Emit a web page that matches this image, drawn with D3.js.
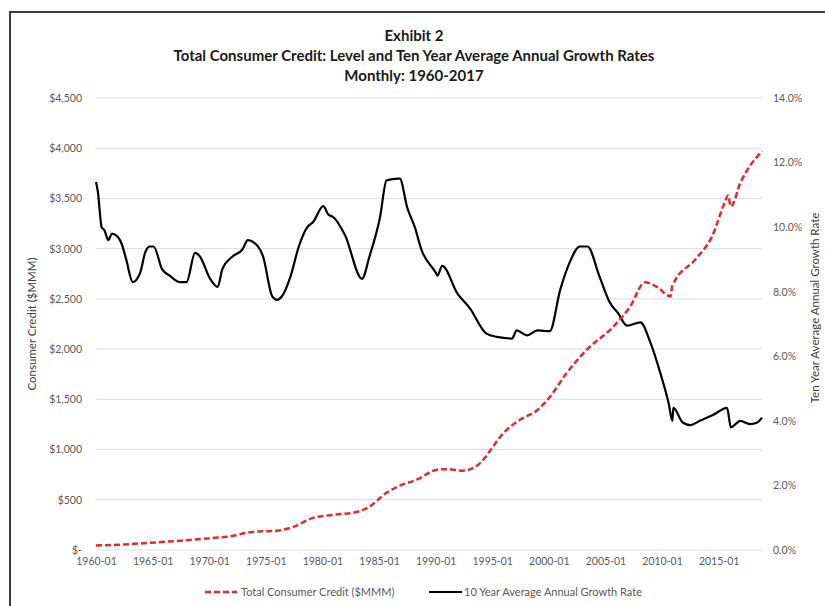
<!DOCTYPE html>
<html>
<head>
<meta charset="utf-8">
<script src="https://cdn.jsdelivr.net/npm/d3@7/dist/d3.min.js"></script>
<style>
  body { margin: 0; background: #fff; }
  svg { display: block; font-family: Lato, "Open Sans", sans-serif; }
</style>
</head>
<body>
<svg id="chart" width="825" height="606"></svg>
<script>
// total consumer credit, $ billions
var creditDates = ["1960-01","1962-02","1964-07","1967-06","1970-05","1971-08","1973-11","1976-01",
  "1977-06","1979-03","1981-01","1983-02","1984-01","1985-09","1986-11","1988-05","1990-03",
  "1991-01","1992-06","1994-01","1994-07","1996-01","1997-06","1999-01","2000-02","2001-08",
  "2003-05","2005-09","2007-03","2008-07","2009-08","2010-10","2010-12","2013-01","2014-06",
  "2015-08","2015-11","2016-02","2016-12","2018-11"];
var creditValues = [45, 52, 70, 92, 120, 132, 180, 192,
  230, 320, 350, 380, 420, 570, 640, 700, 800,
  805, 790, 870, 940, 1165, 1294, 1394, 1523, 1762,
  1991, 2220, 2419, 2665, 2618, 2525, 2630, 2900, 3120,
  3470, 3530, 3420, 3654, 3970];

// ten year average annual growth rate, %
var growthDates = ["1960-01","1960-03","1960-07","1960-10","1961-02","1961-06","1961-12","1962-04",
  "1962-09","1963-04","1963-12","1964-05","1964-10","1965-02","1965-11","1966-07","1967-06",
  "1968-01","1968-10","1969-03","1970-02","1970-10","1971-03","1972-02","1972-12","1973-06",
  "1973-11","1974-10","1975-08","1976-01","1976-06","1977-03","1977-12","1978-09","1979-03",
  "1980-02","1980-07","1981-01","1982-01","1983-07","1984-03","1985-02","1985-09","1986-09",
  "1986-11","1987-07","1988-03","1988-10","1990-01","1990-03","1990-08","1991-12","1993-01",
  "1994-07","1995-06","1996-10","1997-03","1998-02","1999-01","2000-02","2001-01","2001-11",
  "2002-10","2003-06","2004-07","2005-06","2006-02","2006-12","2008-02","2009-01","2009-11",
  "2010-08","2010-12","2011-01","2011-11","2012-07","2013-05","2014-07","2015-10","2016-02",
  "2016-12","2017-10","2018-06","2018-11"];
var growthValues = [11.4, 11.1, 10.0, 9.9, 9.6, 9.8, 9.7, 9.5,
  9.0, 8.3, 8.6, 9.2, 9.4, 9.4, 8.7, 8.5, 8.3,
  8.3, 9.2, 9.1, 8.4, 8.15, 8.7, 9.1, 9.3, 9.6,
  9.55, 9.1, 7.85, 7.75, 7.85, 8.45, 9.4, 10.0, 10.15,
  10.65, 10.4, 10.3, 9.75, 8.4, 9.1, 10.3, 11.45, 11.5,
  11.5, 10.6, 10.0, 9.3, 8.6, 8.5, 8.8, 7.95, 7.5,
  6.7, 6.6, 6.55, 6.8, 6.65, 6.8, 6.78, 8.05, 8.9,
  9.4, 9.4, 8.45, 7.65, 7.35, 6.95, 7.05, 6.4, 5.5,
  4.55, 4.0, 4.4, 3.95, 3.87, 4.0, 4.18, 4.4, 3.8,
  4.0, 3.9, 3.95, 4.1];

var leftTicks = [0, 500, 1000, 1500, 2000, 2500, 3000, 3500, 4000, 4500];
var rightTicks = [0, 2, 4, 6, 8, 10, 12, 14];
var xTickYears = [1960, 1965, 1970, 1975, 1980, 1985, 1990, 1995, 2000, 2005, 2010, 2015];

var titleLines = ["Exhibit 2",
  "Total Consumer Credit: Level and Ten Year Average Annual Growth Rates",
  "Monthly: 1960-2017"];

var parse = d3.timeParse("%Y-%m");
var svg = d3.select("#chart");

var margin = {left: 96, right: 762, top: 98, bottom: 550};

var x = d3.scaleTime()
    .domain([parse("1960-01"), parse("2018-11")])
    .range([margin.left, margin.right]);
var yL = d3.scaleLinear().domain([0, 4500]).range([margin.bottom, margin.top]);
var yR = d3.scaleLinear().domain([0, 14]).range([margin.bottom, margin.top]);

// frame
svg.append("path")
    .attr("d", "M10,606 L10,12 L825,12")
    .attr("fill", "none")
    .attr("stroke", "#3a3a3a")
    .attr("stroke-width", 2);

// title
svg.append("g").selectAll("text")
    .data(titleLines)
    .enter().append("text")
    .attr("x", 414)
    .attr("y", function(d, i) { return 41 + i * 20; })
    .attr("text-anchor", "middle")
    .attr("font-size", "15px")
    .attr("font-weight", "bold")
    .attr("fill", "#1a1a1a")
    .text(function(d) { return d; });

// gridlines
svg.append("g").selectAll("line")
    .data(leftTicks)
    .enter().append("line")
    .attr("x1", margin.left)
    .attr("x2", margin.right)
    .attr("y1", function(d) { return yL(d); })
    .attr("y2", function(d) { return yL(d); })
    .attr("stroke", "#dcdcdc")
    .attr("stroke-width", 1);

// left axis
var fmtDollar = function(d) { return d === 0 ? "$-" : "$" + d3.format(",")(d); };
var leftAxis = svg.append("g")
    .attr("transform", "translate(" + (margin.left - 14) + ",0)")
    .call(d3.axisLeft(yL).tickValues(leftTicks).tickFormat(fmtDollar).tickSize(0).tickPadding(0));
leftAxis.select(".domain").remove();
leftAxis.selectAll("text").attr("font-size", "10.5px").attr("fill", "#595959").attr("font-family", "Lato, sans-serif");

// right axis
var rightAxis = svg.append("g")
    .attr("transform", "translate(" + (margin.right + 11) + ",0)")
    .call(d3.axisRight(yR).tickValues(rightTicks).tickFormat(function(d) { return d.toFixed(1) + "%"; }).tickSize(0).tickPadding(0));
rightAxis.select(".domain").remove();
rightAxis.selectAll("text").attr("font-size", "10.5px").attr("fill", "#595959").attr("font-family", "Lato, sans-serif");

// x axis
var xAxis = svg.append("g")
    .attr("transform", "translate(0," + (margin.bottom + 8) + ")")
    .call(d3.axisBottom(x)
        .tickValues(xTickYears.map(function(yr) { return new Date(yr, 0, 1); }))
        .tickFormat(d3.timeFormat("%Y-%m"))
        .tickSize(0).tickPadding(0));
xAxis.select(".domain").remove();
xAxis.selectAll("text").attr("font-size", "10.5px").attr("fill", "#595959").attr("font-family", "Lato, sans-serif");

// axis titles
svg.append("text")
    .attr("transform", "translate(36,324) rotate(-90)")
    .attr("text-anchor", "middle")
    .attr("font-size", "11.5px")
    .attr("fill", "#404040")
    .text("Consumer Credit ($MMM)");
svg.append("text")
    .attr("transform", "translate(819,308) rotate(-90)")
    .attr("text-anchor", "middle")
    .attr("font-size", "11.5px")
    .attr("fill", "#404040")
    .text("Ten Year Average Annual Growth Rate");

// lines
var credit = creditDates.map(function(d, i) { return {date: parse(d), value: creditValues[i]}; });
var growth = growthDates.map(function(d, i) { return {date: parse(d), value: growthValues[i]}; });

var creditLine = d3.line()
    .x(function(d) { return x(d.date); })
    .y(function(d) { return yL(d.value); })
    .curve(d3.curveMonotoneX);
var growthLine = d3.line()
    .x(function(d) { return x(d.date); })
    .y(function(d) { return yR(d.value); })
    .curve(d3.curveMonotoneX);

svg.append("path")
    .datum(growth)
    .attr("d", growthLine)
    .attr("fill", "none")
    .attr("stroke", "#000")
    .attr("stroke-width", 2.2)
    .attr("stroke-linejoin", "round");

svg.append("path")
    .datum(credit)
    .attr("d", creditLine)
    .attr("fill", "none")
    .attr("stroke", "#e8262c")
    .attr("stroke-width", 2.5)
    .attr("stroke-dasharray", "6,3");

// legend
var legend = svg.append("g").attr("transform", "translate(0,592)");
legend.append("line")
    .attr("x1", 205).attr("x2", 237).attr("y1", 0).attr("y2", 0)
    .attr("stroke", "#e8262c").attr("stroke-width", 2.5).attr("stroke-dasharray", "6,3");
legend.append("text")
    .attr("x", 241).attr("y", 4)
    .attr("font-size", "11px").attr("fill", "#595959")
    .text("Total Consumer Credit ($MMM)");
legend.append("line")
    .attr("x1", 429).attr("x2", 462).attr("y1", 0).attr("y2", 0)
    .attr("stroke", "#000").attr("stroke-width", 2.2);
legend.append("text")
    .attr("x", 464).attr("y", 4)
    .attr("font-size", "11px").attr("fill", "#595959")
    .text("10 Year Average Annual Growth Rate");
</script>
</body>
</html>
